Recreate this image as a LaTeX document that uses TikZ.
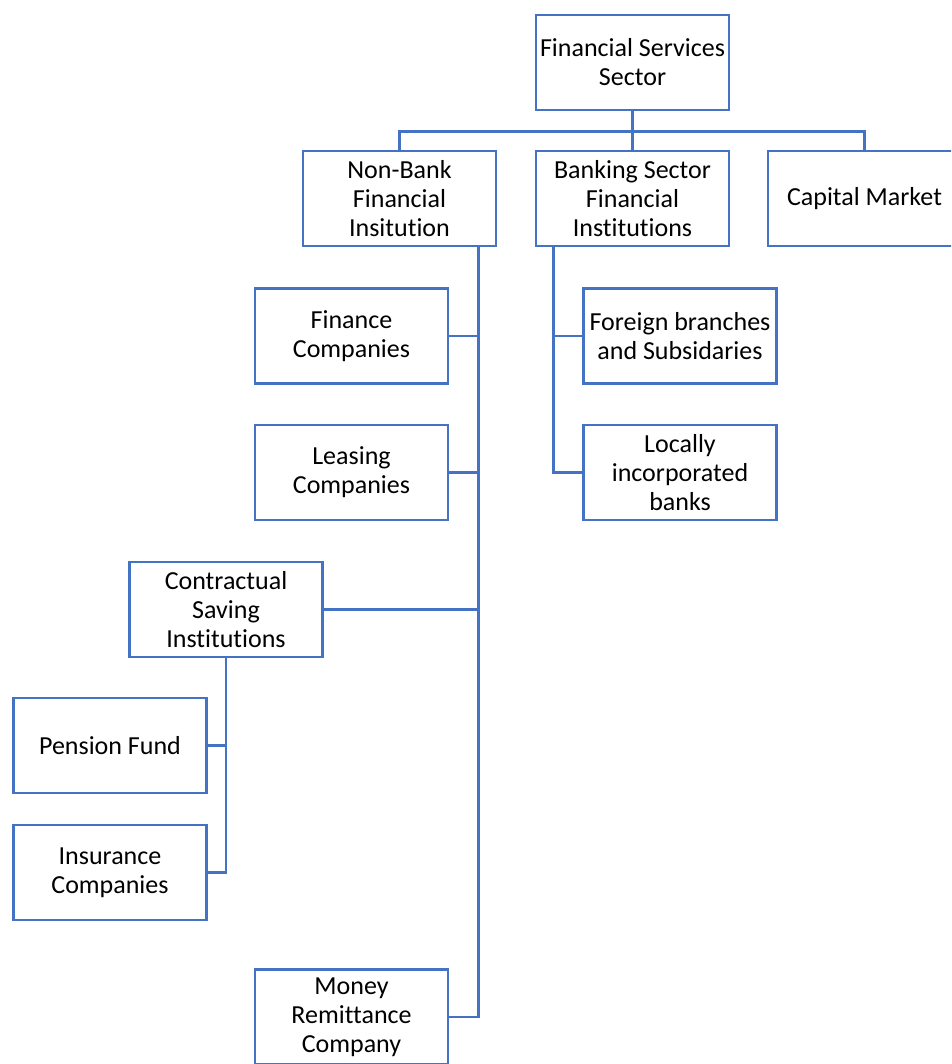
\documentclass[tikz,border=0pt]{standalone}
\usepackage{fontspec}
\setmainfont{Carlito}[RawFeature=-liga]
\usepackage{xcolor}
\usetikzlibrary{calc}
\definecolor{orgblue}{HTML}{4472C4}
\tikzset{
  orgbox/.style = {draw = orgblue, line width = 2.8pt, rectangle, align = center,
    minimum width = 193pt, minimum height = 95pt, inner sep = 1pt,
    font = \fontsize{26}{29}\selectfont},
  orgline/.style = {draw = orgblue, line width = 2.8pt},
}

\begin{document}
\begin{tikzpicture}[x = 1pt, y = -1pt]
			\useasboundingbox (0,0) rectangle (951,1064);
			\clip (0,0) rectangle (951,1064);
			\def\spine{19};

			% top level
			\node [orgbox] (fss) at (632.5,62.5) {Financial Services\\Sector};
			\node [orgbox] (nbfi) at (399.5,198.5) {Non-Bank\\Financial\\Insitution};
			\node [orgbox] (bsfi) at (632.5,198.5) {Banking Sector\\Financial\\Institutions};
			\node [orgbox] (cap) at (864.5,198.5) {Capital Market};

			% non-bank branch
			\node [orgbox] (finco) at (351.5,336) {Finance\\Companies};
			\node [orgbox] (lease) at (351.5,472.5) {Leasing\\Companies};
			\node [orgbox] (css) at (226,609.5) {Contractual\\Saving\\Institutions};
			\node [orgbox] (pension) at (110,745.5) {Pension Fund};
			\node [orgbox] (insur) at (110,872.5) {Insurance\\Companies};
			\node [orgbox] (money) at (351.5,1017) {Money\\Remittance\\Company};

			% banking branch
			\node [orgbox] (foreign) at (680,336) {Foreign branches\\and Subsidaries};
			\node [orgbox] (local) at (680,472.5) {Locally\\incorporated\\banks};

			\coordinate (bus) at ($(fss.south)+(0,20)$);
			\coordinate (nbspine) at ($(nbfi.south east)+(-\spine,0)$);
			\coordinate (bsspine) at ($(bsfi.south west)+(\spine,0)$);

			\begin{scope}[orgline]
				\draw (fss.south) -- (bsfi.north);
				\draw (nbfi.north) |- (bus) -| (cap.north);

				\draw (nbspine) |- (money.east);
				\draw (finco.east) -- (finco.east -| nbspine);
				\draw (lease.east) -- (lease.east -| nbspine);
				\draw (css.east) -- (css.east -| nbspine);

				\draw (css.south) |- (insur.east);
				\draw (pension.east) -- (pension.east -| css.south);

				\draw (bsspine) |- (local.west);
				\draw (foreign.west) -- (foreign.west -| bsspine);
			\end{scope}
		\end{tikzpicture}
\end{document}
